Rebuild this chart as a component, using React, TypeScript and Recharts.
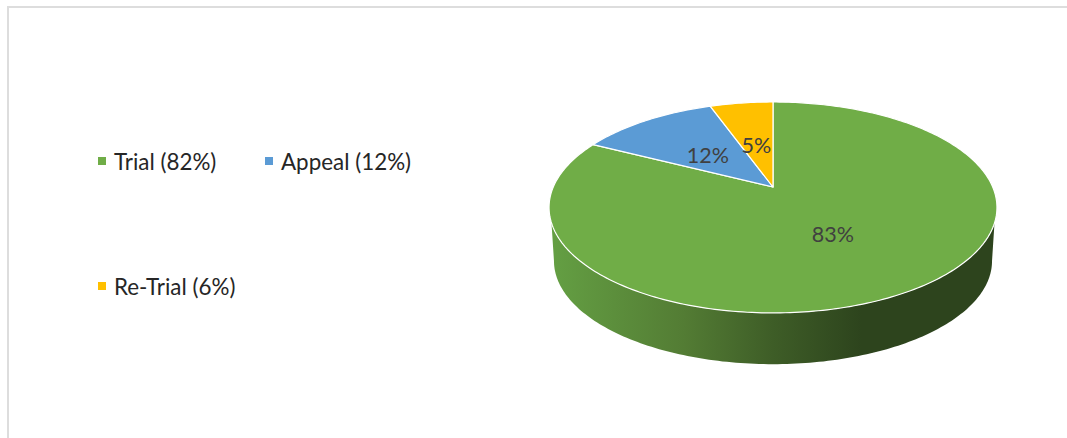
import { PieChart, Pie, Cell, Legend } from 'recharts';

const sliceNames = ['Trial (82%)', 'Appeal (12%)', 'Re-Trial (6%)'];
const sliceValues = [82.51, 12.0, 5.49];
const sliceColors = ['#70AD47', '#5B9BD5', '#FFC000'];

const tableData = sliceNames.map((name, i) => ({ name, value: sliceValues[i] }));

const FONT = 'Lato, "Open Sans", sans-serif';

// the pie is tilted: a circle seen in perspective, so the hub sits above the middle of the ellipse
const RX = 219.7;
const RY = 101.5;
const TILT = 0.194;
const WALL_SCALE = 0.978;
const WALL_DROP = 54;

function rimPoint(cx: number, cy: number, angle: number, t = 1) {
  const rad = (angle * Math.PI) / 180;
  const u = Math.cos(rad) * t;
  const v = Math.sin(rad) * t;
  const w = 1 + TILT * v;
  return { x: cx + (RX * u) / w, y: cy - (RY * v) / w };
}

function arcPoints(cx: number, cy: number, from: number, to: number) {
  const steps = Math.max(2, Math.ceil(Math.abs(to - from)));
  const pts = [];
  for (let i = 0; i <= steps; i++) {
    pts.push(rimPoint(cx, cy, from + ((to - from) * i) / steps));
  }
  return pts;
}

function toPath(pts: { x: number; y: number }[]) {
  return pts.map((p, i) => `${i === 0 ? 'M' : 'L'}${p.x.toFixed(2)} ${p.y.toFixed(2)}`).join(' ');
}

function TiltedSlice(props: any) {
  const { cx, cy, startAngle, endAngle, fill, name } = props;
  const top = arcPoints(cx, cy, startAngle, endAngle);
  const slicePath = `${toPath([{ x: cx, y: cy }, ...top])} Z`;

  let wall = null;
  if (name === sliceNames[0]) {
    const upper = arcPoints(cx, cy, -19.4, -160.6);
    const lower = arcPoints(cx, cy, -168.8, -11.2).map((p) => ({
      x: cx + (p.x - cx) * WALL_SCALE,
      y: cy + (p.y - cy) * WALL_SCALE + WALL_DROP,
    }));
    wall = <path d={`${toPath([...upper, ...lower])} Z`} fill="url(#wallShade)" />;
  }

  return (
    <g>
      {wall}
      <path d={slicePath} fill={fill} stroke="#fff" strokeWidth={1.2} strokeLinejoin="round" />
    </g>
  );
}

function sliceLabel(props: any) {
  const { cx, cy, midAngle, percent } = props;
  const p = rimPoint(cx, cy, midAngle, 0.48);
  return (
    <text
      x={p.x}
      y={p.y + 2}
      fill="#404040"
      fontFamily={FONT}
      fontSize={21.5}
      textAnchor="middle"
      dominantBaseline="central"
    >
      {`${Math.round(percent * 100)}%`}
    </text>
  );
}

function LegendBlock({ payload }: any) {
  return (
    <div style={{ display: 'grid', gridTemplateColumns: '167px 167px', gridAutoRows: 125 }}>
      {(payload || []).map((entry: any) => (
        <div key={entry.value} style={{ display: 'flex', alignItems: 'center', height: 26, fontFamily: FONT, fontSize: 22.4, color: '#262626', whiteSpace: 'nowrap' }}>
          <span style={{ width: 8, height: 8, background: entry.color, marginRight: 8, flex: 'none' }} />
          {entry.value}
        </div>
      ))}
    </div>
  );
}

export default function App() {
  return (
    <div style={{ position: 'absolute', left: 0, top: 0, width: 1067, height: 438, background: '#fff', overflow: 'hidden' }}>
      <div style={{ position: 'absolute', left: 7, top: 6, right: 0, height: 2, background: '#DDDDDD' }} />
      <div style={{ position: 'absolute', left: 7, top: 6, bottom: 0, width: 2, background: '#DDDDDD' }} />
      <PieChart width={1067} height={438} margin={{ top: 0, right: 0, bottom: 0, left: 0 }}>
        <defs>
          <linearGradient id="wallShade" x1="0" y1="0" x2="1" y2="0">
            <stop offset="0%" stopColor="#649F43" />
            <stop offset="30%" stopColor="#537C34" />
            <stop offset="50%" stopColor="#3E5D27" />
            <stop offset="70%" stopColor="#2D441D" />
            <stop offset="100%" stopColor="#2D441D" />
          </linearGradient>
        </defs>
        <Legend
          content={<LegendBlock />}
          layout="horizontal"
          verticalAlign="middle"
          align="center"
          itemSorter={null}
          wrapperStyle={{ left: 98, top: 148, width: 340 }}
        />
        <Pie
          data={tableData}
          dataKey="value"
          nameKey="name"
          cx={773}
          cy={187}
          outerRadius={100}
          startAngle={90}
          endAngle={-270}
          shape={TiltedSlice}
          label={sliceLabel}
          labelLine={false}
          stroke="#fff"
          isAnimationActive={false}
        >
          {sliceColors.map((color) => (
            <Cell key={color} fill={color} />
          ))}
        </Pie>
      </PieChart>
    </div>
  );
}
